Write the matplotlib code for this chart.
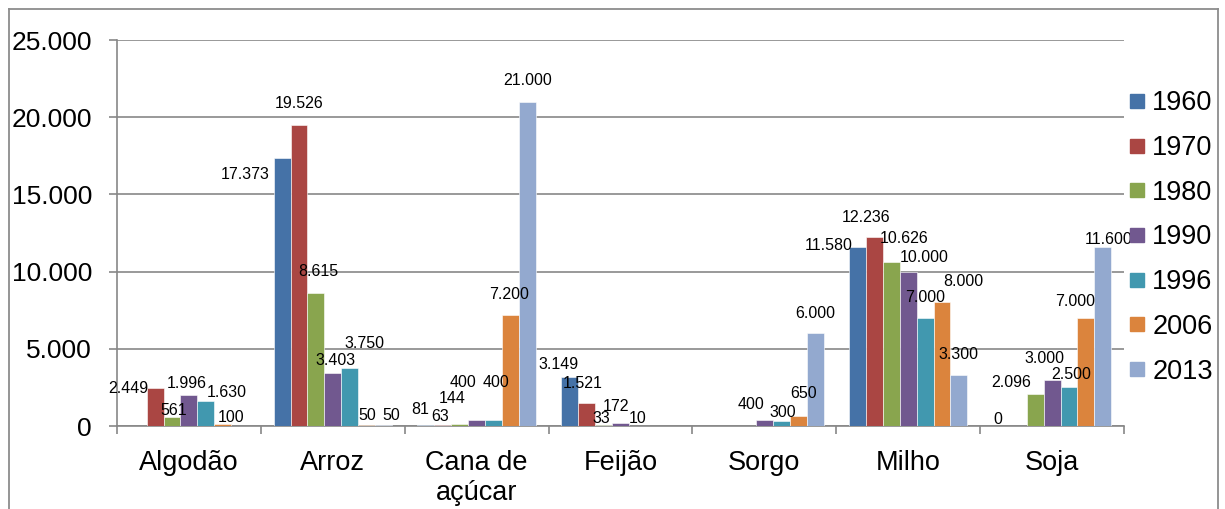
import numpy as np
import matplotlib
matplotlib.use("Agg")
import matplotlib.pyplot as plt
from matplotlib.lines import Line2D

plt.rcParams['font.family'] = ['Liberation Sans', 'DejaVu Sans']

nan = np.nan
categories = ["Algodão", "Arroz", "Cana de\naçúcar", "Feijão", "Sorgo", "Milho", "Soja"]
years = ["1960", "1970", "1980", "1990", "1996", "2006", "2013"]
v1960 = [nan, 17373, 81, 3149, nan, 11580, nan]
v1970 = [2449, 19526, 63, 1521, nan, 12236, 0]
v1980 = [561, 8615, 144, 33, nan, 10626, 2096]
v1990 = [1996, 3403, 400, 172, 400, 10000, 3000]
v1996 = [1630, 3750, 400, 10, 300, 7000, 2500]
v2006 = [100, 50, 7200, nan, 650, 8000, 7000]
v2013 = [nan, 50, 21000, nan, 6000, 3300, 11600]
series = [v1960, v1970, v1980, v1990, v1996, v2006, v2013]
colors = ["#4572A7", "#AA4643", "#89A54E", "#71588F", "#4198AF", "#DB843D", "#93A9CF"]

# label offsets in pixels (dx, dy up) relative to bar center/top, per (category, series)
label_offsets = {
    (0, 1): (-27, 0), (0, 2): (2, 7), (0, 3): (-2, 12), (0, 4): (21, 8), (0, 5): (8, 6.5),
    (1, 0): (-37, -17), (1, 1): (0, 21.5), (1, 2): (2, 21), (1, 3): (3, 12.5), (1, 4): (15, 25),
    (1, 5): (1, 10), (1, 6): (8, 10),
    (2, 0): (-6, 15), (2, 1): (-3, 9), (2, 2): (-8, 25), (2, 3): (-14, 37), (2, 4): (2, 37),
    (2, 5): (-1, 20), (2, 6): (0, 21),
    (3, 0): (-11, 13), (3, 1): (-4, 19.5), (3, 2): (-2, 6.5), (3, 3): (-5, 17), (3, 4): (0, 7),
    (4, 3): (-13, 15), (4, 4): (2, 9), (4, 5): (5, 22), (4, 6): (0, 20),
    (5, 0): (-29, 2), (5, 1): (-8, 20), (5, 2): (13, 23), (5, 3): (16, 13.6), (5, 4): (0, 20),
    (5, 5): (21, 20.5), (5, 6): (0, 21),
    (6, 1): (-20, 7), (6, 2): (-24, 11.6), (6, 3): (-8, 21), (6, 4): (2, 13), (6, 5): (-11, 16),
    (6, 6): (6, 7),
}

def fmt(v):
    return f"{int(v):,}".replace(",", ".")

W, H = 1225, 509
fig = plt.figure(figsize=(W / 100, H / 100), dpi=100)
ax = fig.add_axes([117 / W, 1 - 426 / H, (1124 - 117) / W, (426 - 40) / H])

n = len(categories)
x = np.arange(n)
bw = 0.1175
for j, (vals, c) in enumerate(zip(series, colors)):
    pos = x + (j - 3) * bw
    arr = np.array(vals, dtype=float)
    ax.bar(pos, np.nan_to_num(arr), width=bw, color=c, edgecolor="white", linewidth=0.4, zorder=3)
    for i, v in enumerate(arr):
        if np.isnan(v):
            continue
        dx, dy = label_offsets.get((i, j), (0, 15))
        ax.annotate(fmt(v), (pos[i], v), xytext=(dx, dy), textcoords="offset pixels",
                    ha="center", va="center", fontsize=11.5, color="black", zorder=5)

ax.set_xlim(-0.5, n - 0.5)
ax.set_ylim(0, 25000)
ax.set_yticks(np.arange(0, 25001, 5000))
ax.set_yticklabels([fmt(t) for t in np.arange(0, 25001, 5000)], fontsize=19)
ax.yaxis.grid(True, color="#878787", linewidth=1.2, zorder=0)
ax.set_axisbelow(True)

ax.set_xticks(x)
ax.set_xticklabels(categories, fontsize=19.5, linespacing=1.2)
ax.set_xticks(np.arange(-0.5, n, 1), minor=True)
ax.tick_params(axis="x", which="major", length=0, pad=17)
ax.tick_params(axis="x", which="minor", length=6, width=1.2, color="#878787", direction="out")
ax.tick_params(axis="y", length=6, width=1.2, color="#878787", pad=12)

for s in ["top", "right"]:
    ax.spines[s].set_visible(False)
ax.spines["left"].set_color("#878787")
ax.spines["left"].set_linewidth(1.2)
ax.spines["bottom"].set_color("#878787")
ax.spines["bottom"].set_linewidth(1.2)

handles = [Line2D([0], [0], marker="s", linestyle="none", markersize=10,
                  markerfacecolor=c, markeredgecolor=c) for c in colors]
fig.legend(handles, years, loc="center left", bbox_to_anchor=(1128 / W, 1 - 237.5 / H),
           frameon=False, fontsize=19.5, handlelength=0.65, handletextpad=0.25,
           labelspacing=0.69, borderpad=0, borderaxespad=0)

# outer frame
fc = "#8c8c8c"
fig.add_artist(Line2D([9 / W, 9 / W], [0, 1 - 9 / H], transform=fig.transFigure, color=fc, lw=1.3))
fig.add_artist(Line2D([9 / W, 1218 / W], [1 - 9 / H, 1 - 9 / H], transform=fig.transFigure, color=fc, lw=1.3))
fig.add_artist(Line2D([1218 / W, 1218 / W], [0, 1 - 9 / H], transform=fig.transFigure, color=fc, lw=1.3))

fig.savefig("out.png", dpi=100)
